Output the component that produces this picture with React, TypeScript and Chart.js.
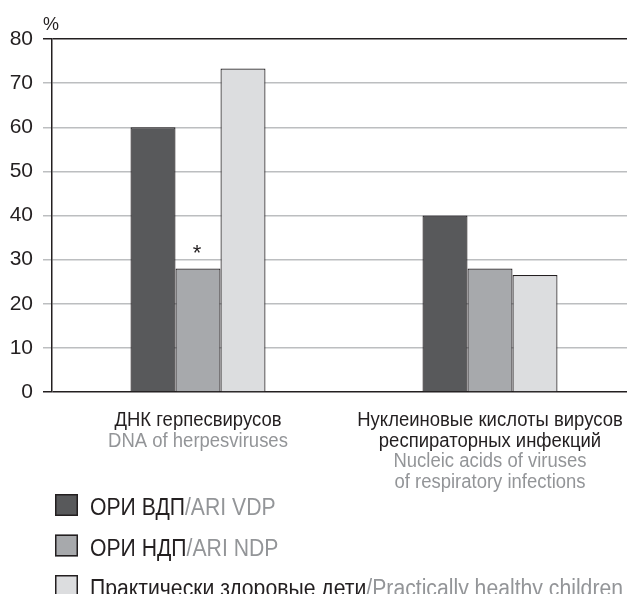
import React, { useEffect, useRef } from "react";
import { Chart, registerables } from "chart.js";

Chart.register(...registerables);

const categories = ["ДНК герпесвирусов", "Нуклеиновые кислоты вирусов респираторных инфекций"];
const categoryLinesRu = [["ДНК герпесвирусов"], ["Нуклеиновые кислоты вирусов", "респираторных инфекций"]];
const categoryLinesEn = [["DNA of herpesviruses"], ["Nucleic acids of viruses", "of respiratory infections"]];

const seriesRu = ["ОРИ ВДП", "ОРИ НДП", "Практически здоровые дети"];
const seriesEn = ["ARI VDP", "ARI NDP", "Practically healthy children"];

const ariVdp = [60, 40];
const ariNdp = [28, 28];
const healthy = [73.3, 26.5];

const yTicks = [0, 10, 20, 30, 40, 50, 60, 70, 80];
const yUnit = "%";
const significanceMarks = [{ dataset: 1, index: 0, text: "*" }];

const COLORS = ["#58595b", "#a7a9ac", "#dcdddf"];
const INK = "#231f20";
const GRAYTEXT = "#939598";
const SANS = '"Liberation Sans", Arial, sans-serif';

export default function App() {
  const ref = useRef<HTMLCanvasElement | null>(null);

  useEffect(() => {
    if (!ref.current) return;
    const overlay = {
      id: "overlay",
      afterDraw(chart: any) {
        const ctx = chart.ctx as CanvasRenderingContext2D;
        const x = chart.scales.x;
        const area = chart.chartArea;
        ctx.save();
        // unit
        ctx.fillStyle = INK;
        ctx.font = "18px " + SANS;
        ctx.textAlign = "left";
        ctx.textBaseline = "alphabetic";
        ctx.fillText(yUnit, 43, 30);

        // significance marks
        ctx.font = "22px " + SANS;
        ctx.textAlign = "center";
        significanceMarks.forEach((m) => {
          const el = chart.getDatasetMeta(m.dataset).data[m.index];
          ctx.fillText(m.text, el.x - 1, el.y - 8);
        });

        // category labels (condensed)
        ctx.font = "20px " + SANS;
        const catK = 167 / ctx.measureText(categoryLinesRu[0][0]).width;
        ctx.textAlign = "center";
        categories.forEach((_, i) => {
          const cx = x.getPixelForValue(i);
          let yy = area.bottom + 34;
          const lines = [
            ...categoryLinesRu[i].map((t) => [t, INK]),
            ...categoryLinesEn[i].map((t) => [t, GRAYTEXT]),
          ];
          lines.forEach(([t, c]) => {
            ctx.save();
            ctx.translate(cx, yy);
            ctx.scale(catK, 1);
            ctx.fillStyle = c;
            ctx.fillText(t, 0, 0);
            ctx.restore();
            yy += 20.7;
          });
        });

        // legend (condensed)
        ctx.font = "23px " + SANS;
        ctx.textAlign = "left";
        const lastFull = seriesRu[2] + "/" + seriesEn[2];
        const legK = 533 / ctx.measureText(lastFull).width;
        seriesRu.forEach((ru, i) => {
          const top = 494 + i * 40.5;
          ctx.fillStyle = COLORS[i];
          ctx.fillRect(55, top, 23, 22);
          ctx.strokeStyle = INK;
          ctx.lineWidth = 1.5;
          ctx.strokeRect(55.75, top + 0.75, 21.5, 20.5);
          ctx.save();
          ctx.translate(90, top + 21);
          ctx.scale(legK, 1);
          ctx.fillStyle = INK;
          ctx.fillText(ru, 0, 0);
          const w = ctx.measureText(ru).width;
          ctx.fillStyle = GRAYTEXT;
          ctx.fillText("/" + seriesEn[i], w, 0);
          ctx.restore();
        });
        ctx.restore();
      },
    };

    const chart = new Chart(ref.current, {
      type: "bar",
      data: {
        labels: categories,
        datasets: [
          { label: seriesRu[0], data: ariVdp, backgroundColor: COLORS[0] },
          { label: seriesRu[1], data: ariNdp, backgroundColor: COLORS[1] },
          { label: seriesRu[2], data: healthy, backgroundColor: COLORS[2] },
        ].map((d) => ({
          ...d,
          borderColor: INK,
          borderWidth: 1.2,
          inflateAmount: 0,
          categoryPercentage: 0.4623,
          barPercentage: 1,
        })),
      },
      options: {
        animation: false,
        responsive: false,
        maintainAspectRatio: false,
        layout: { padding: { top: 39, left: 0, right: 0, bottom: 0 } },
        plugins: { legend: { display: false }, tooltip: { enabled: false } },
        scales: {
          x: {
            grid: { display: false },
            border: { display: false },
            ticks: { display: false },
            afterFit: (s: any) => {
              s.height = 202;
            },
          },
          y: {
            min: 0,
            max: 80,
            afterFit: (s: any) => {
              s.width = 52;
            },
            afterBuildTicks: (s: any) => {
              s.ticks = yTicks.map((v) => ({ value: v }));
            },
            border: { color: INK, width: 1.5 },
            grid: {
              color: (c: any) => (c.tick && (c.tick.value === 0 || c.tick.value === 80) ? INK : "#bcbec0"),
              lineWidth: 1.5,
              tickLength: 9,
              drawTicks: true,
            },
            ticks: {
              color: INK,
              padding: 10,
              font: { family: SANS, size: 21 },
            },
          },
        },
      },
      plugins: [overlay],
    });
    return () => chart.destroy();
  }, []);

  return (
    <div style={{ position: "fixed", left: 0, top: 0, width: 627, height: 594, overflow: "hidden", background: "#fff" }}>
      <canvas ref={ref} width={636} height={594} style={{ width: 636, height: 594, display: "block" }} />
    </div>
  );
}
